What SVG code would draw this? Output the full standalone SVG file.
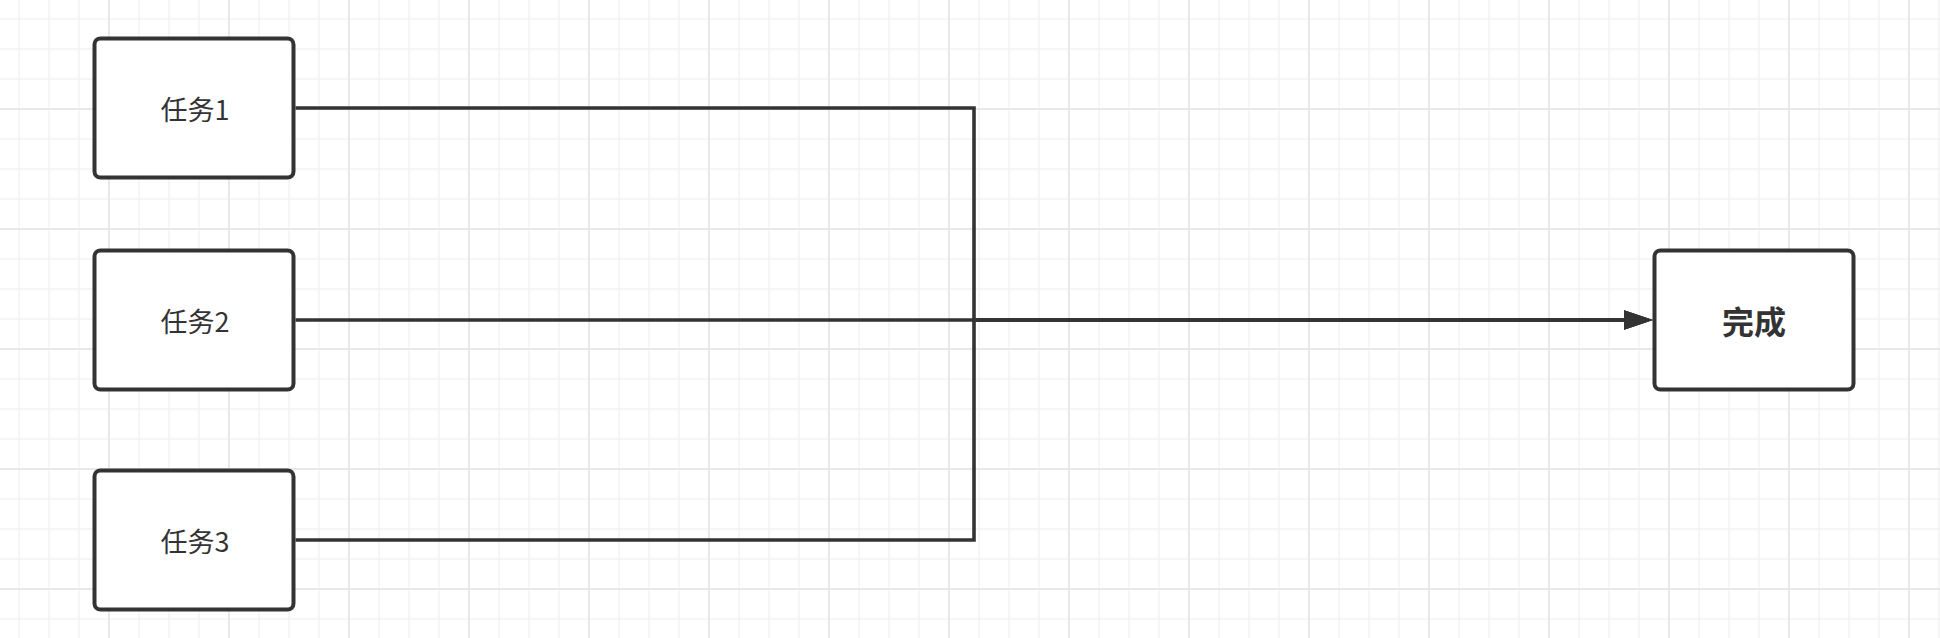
<svg xmlns="http://www.w3.org/2000/svg" width="1940" height="638" viewBox="0 0 1940 638">
  <defs>
    <pattern id="grid" x="4" y="4" width="120" height="120" patternUnits="userSpaceOnUse">
      <path d="M15 0V120M45 0V120M75 0V120M0 15H120M0 45H120M0 75H120" fill="none" stroke="#f3f3f3" stroke-width="1.5"/>
      <path d="M105 0V120M0 105H120" fill="none" stroke="#e8e8e8" stroke-width="2"/>
    </pattern>
    <marker id="arrow" markerUnits="userSpaceOnUse" markerWidth="30" markerHeight="20" refX="0" refY="9.7" orient="auto">
      <path d="M0 0L29 9.7L0 19.4Z" fill="#333333"/>
    </marker>
    <style>
      .node rect { fill: #ffffff; stroke: #333333; stroke-width: 4; }
      .node text { font-family: "Noto Sans CJK SC", "Liberation Sans", sans-serif; fill: #333333; text-anchor: middle; dominant-baseline: central; }
      .task text { font-size: 27px; }
      .done text { font-size: 32px; font-weight: bold; }
      .conn path { fill: none; stroke: #333333; stroke-width: 3.6; }
    </style>
  </defs>
  <rect width="1940" height="638" fill="#ffffff"/>
  <rect width="1940" height="638" fill="url(#grid)"/>

  <g id="connectors" class="conn">
    <path d="M295.5 108H974V320H1624" marker-end="url(#arrow)"/>
    <path d="M295.5 320H1624" marker-end="url(#arrow)"/>
    <path d="M295.5 540H974V320H1624" marker-end="url(#arrow)"/>
  </g>

  <g id="task1" class="node task">
    <rect x="94.5" y="38.5" width="199" height="139" rx="6"/>
    <text x="195" y="108">任务1</text>
  </g>
  <g id="task2" class="node task">
    <rect x="94.5" y="250.5" width="199" height="139" rx="6"/>
    <text x="195" y="320">任务2</text>
  </g>
  <g id="task3" class="node task">
    <rect x="94.5" y="470.5" width="199" height="139" rx="6"/>
    <text x="195" y="540">任务3</text>
  </g>
  <g id="done" class="node done">
    <rect x="1654.5" y="250.5" width="199" height="139" rx="6"/>
    <text x="1754" y="320">完成</text>
  </g>
</svg>
